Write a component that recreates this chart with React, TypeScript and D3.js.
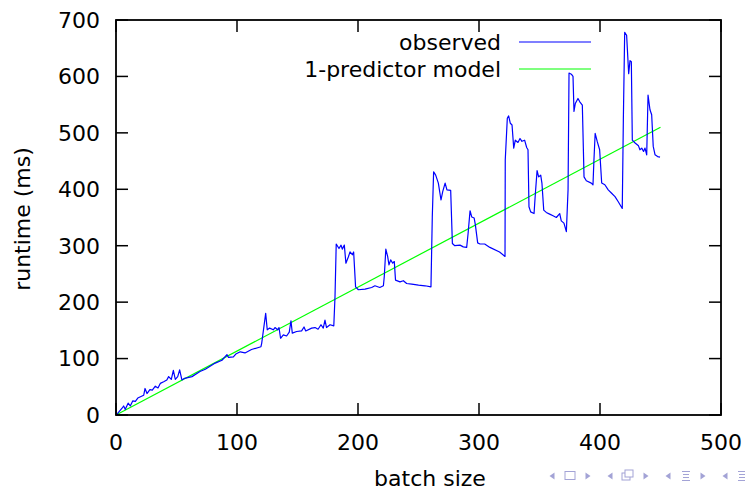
import React from "react";
import { scaleLinear, line } from "d3";

// batch size -> observed runtime (ms)
const batchSizes = [
  1, 5, 6.3, 7.7, 10, 11.8, 13.8, 16, 18, 22.9, 24, 25.6, 28, 30, 32.5, 34.7, 36.6, 39.4, 42, 43.5,
  45.7, 47.4, 49, 51, 52.6, 54.5, 56.7, 62.8, 69.4, 73.8, 82, 87.6, 91.7, 93, 97, 99, 102.7, 106.6,
  112, 119.8, 120.4, 123.7, 125, 127, 130, 131.4, 133.6, 134.7, 136, 138.3, 141, 143.2, 144.6, 145.7,
  149.3, 153.4, 155.4, 156.8, 161.7, 164.5, 167, 169.4, 171.3, 172.7, 174, 176.9, 180, 181, 182,
  184.3, 186, 187, 188.7, 190, 192, 193.4, 195.3, 196.4, 198, 200.3, 205.8, 211.3, 214, 218, 221,
  221.7, 223, 224.5, 225.6, 227, 228.7, 230, 231, 234.7, 237.5, 240.2, 244.4, 250, 255.4, 260.3,
  261.4, 262.5, 264.2, 266.4, 268.6, 270, 272, 273.5, 276.6, 278, 280, 284.3, 287, 289.8, 291, 292.6,
  294, 296, 297, 298.9, 300.8, 304.7, 309, 317, 321.5, 321.7, 323.4, 324.5, 325.9, 327.3, 328.7, 330,
  332.2, 333.9, 335.5, 337.7, 339.4, 340.5, 341.3, 342.7, 345.5, 346.6, 348, 349.3, 351, 352, 353.5,
  355.6, 358.4, 361.2, 363.9, 366.7, 368, 370.2, 372.2, 373.6, 374.4, 376.3, 377.7, 378.5, 379.6,
  381.8, 383.3, 385.4, 386.8, 388.7, 392.8, 394.2, 395, 396, 397.8, 399.7, 401.4, 404, 406.8, 409.6,
  412.4, 415.1, 418.4, 419.3, 420.4, 422, 423.7, 424.8, 425.9, 426.7, 429, 431.8, 433, 434.5, 436,
  437.2, 438.6, 439.7, 441.3, 442.7, 444, 445.5, 447.6, 449.6,
];
const observedRuntime = [
  2, 12, 16, 10, 21, 16, 25, 24, 30, 35, 47, 38, 45, 44, 51, 48, 56, 59, 62, 68,
  63, 79, 63, 68, 80, 62, 65, 68, 77, 81, 92, 97, 107, 102, 103, 108, 112, 110,
  116, 121, 127, 180, 151, 154, 151, 155, 151, 155, 136, 142, 140, 147, 167, 145,
  148, 149, 156, 149, 154, 155, 152, 160, 154, 168, 155, 160, 158, 210, 303,
  295, 301, 294, 301, 269, 280, 289, 284, 289, 227, 222, 223, 226, 229, 226, 229,
  245, 294, 281, 266, 275, 269, 272, 239, 236, 238, 233, 232, 230, 229, 227,
  351, 431, 425, 411, 381, 396, 411, 399, 398, 304, 300, 301, 298, 297, 322, 362,
  351, 349, 337, 305, 303, 303, 297, 289, 281, 452, 526, 530, 517, 514, 473, 487,
  483, 490, 485, 487, 474, 470, 369, 360, 357, 393, 433, 422, 425, 411, 363,
  359, 356, 353, 350, 357, 344, 340, 325, 399, 606, 604, 600, 538, 552,
  561, 555, 549, 422, 415, 411, 408, 452, 499, 484, 470, 411, 408, 399, 393,
  387, 378, 366, 523, 678, 673, 605, 628, 626, 487, 482, 477, 470, 473, 467,
  473, 461, 567, 541, 532, 476, 461, 458, 457,
];

// 1-predictor linear model, endpoints
const modelBatch = [0, 450];
const modelRuntime = [0, 510];

const xTicks = [0, 100, 200, 300, 400, 500];
const yTicks = [0, 100, 200, 300, 400, 500, 600, 700];

const W = 745;
const H = 490;
const margin = { left: 116, right: 24, top: 20, bottom: 75 };
const font = "'DejaVu Sans', sans-serif";
const navColor = "#a3a3d6";

function NavArrow({ x, dir }: { x: number; dir: number }) {
  const y = 476;
  return <path d={`M${x - 2.5 * dir},${y - 3.5} L${x + 2.5 * dir},${y} L${x - 2.5 * dir},${y + 3.5} Z`} fill={navColor} />;
}

export default function App() {
  const innerW = W - margin.left - margin.right;
  const innerH = H - margin.top - margin.bottom;
  const x = scaleLinear().domain([0, 500]).range([0, innerW]);
  const y = scaleLinear().domain([0, 700]).range([innerH, 0]);

  const path = line<number>()
    .x((d, i) => x(batchSizes[i]))
    .y((d) => y(d));
  const modelPath = line<number>()
    .x((d, i) => x(modelBatch[i]))
    .y((d) => y(d));

  const tick = 12;

  return (
    <svg
      width={W}
      height={H}
      style={{ position: "absolute", left: 0, top: 0, background: "white" }}
      fontFamily={font}
    >
      <g transform={`translate(${margin.left},${margin.top})`}>
        {/* data */}
        <path d={modelPath(modelRuntime) || ""} fill="none" stroke="#00ff00" strokeWidth={1.2} />
        <path d={path(observedRuntime) || ""} fill="none" stroke="#0000ff" strokeWidth={1.2} strokeLinejoin="round" />

        {/* ticks, mirrored on all sides */}
        {xTicks.map((t) => (
          <g key={`x${t}`}>
            <line x1={x(t)} x2={x(t)} y1={innerH} y2={innerH - tick} stroke="black" strokeWidth={1.5} />
            <line x1={x(t)} x2={x(t)} y1={0} y2={tick} stroke="black" strokeWidth={1.5} />
            <text x={x(t)} y={innerH + 35} textAnchor="middle" fontSize={22}>
              {t}
            </text>
          </g>
        ))}
        {yTicks.map((t) => (
          <g key={`y${t}`}>
            <line x1={0} x2={tick} y1={y(t)} y2={y(t)} stroke="black" strokeWidth={1.5} />
            <line x1={innerW} x2={innerW - tick} y1={y(t)} y2={y(t)} stroke="black" strokeWidth={1.5} />
            <text x={-16} y={y(t)} dy="0.36em" textAnchor="end" fontSize={22}>
              {t}
            </text>
          </g>
        ))}
        <rect x={0} y={0} width={innerW} height={innerH} fill="none" stroke="black" strokeWidth={1.8} />

        {/* legend */}
        <text x={385} y={30} textAnchor="end" fontSize={22}>observed</text>
        <line x1={403} x2={475} y1={22} y2={22} stroke="#0000ff" strokeWidth={1.2} />
        <text x={385} y={57} textAnchor="end" fontSize={22}>1-predictor model</text>
        <line x1={403} x2={475} y1={49} y2={49} stroke="#00ff00" strokeWidth={1.2} />
      </g>

      {/* axis titles */}
      <text x={430} y={486} textAnchor="middle" fontSize={22}>batch size</text>
      <text transform={`translate(30,219) rotate(-90)`} textAnchor="middle" fontSize={22}>
        runtime (ms)
      </text>

      {/* beamer navigation symbols */}
      <NavArrow x={552} dir={-1} />
      <rect x={565} y={471.5} width={10} height={8} fill="none" stroke={navColor} strokeWidth={1} />
      <NavArrow x={588} dir={1} />
      <NavArrow x={610} dir={-1} />
      <rect x={622} y={473} width={8} height={7} fill="none" stroke={navColor} strokeWidth={1} />
      <rect x={625} y={470} width={8} height={7} fill="white" stroke={navColor} strokeWidth={1} />
      <NavArrow x={646} dir={1} />
      <NavArrow x={668} dir={-1} />
      <g stroke={navColor} strokeWidth={1}>
        <line x1={682} x2={690} y1={471.5} y2={471.5} />
        <line x1={683} x2={689} y1={474.5} y2={474.5} />
        <line x1={683} x2={689} y1={477.5} y2={477.5} />
        <line x1={682} x2={690} y1={480.5} y2={480.5} />
      </g>
      <NavArrow x={703} dir={1} />
      <NavArrow x={725} dir={-1} />
      <g stroke={navColor} strokeWidth={1}>
        <line x1={738} x2={745} y1={471.5} y2={471.5} />
        <line x1={739} x2={745} y1={474.5} y2={474.5} />
        <line x1={739} x2={745} y1={477.5} y2={477.5} />
        <line x1={738} x2={745} y1={480.5} y2={480.5} />
      </g>
    </svg>
  );
}
